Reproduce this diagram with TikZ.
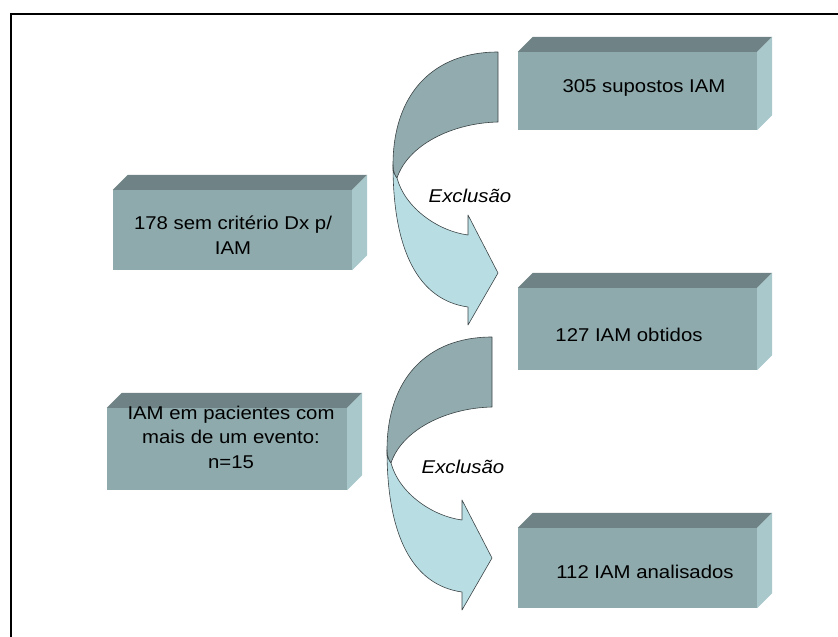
\documentclass[tikz,border=0pt]{standalone}
\usepackage{fontspec}
\setmainfont[FakeStretch=1.1]{Liberation Sans}
\definecolor{frontc}{HTML}{8FAAAD}
\definecolor{topc}{HTML}{6F8386}
\definecolor{sidec}{HTML}{A8C8CB}
\definecolor{arrdark}{HTML}{91ABAE}
\definecolor{arrlight}{HTML}{B8DEE4}
\definecolor{arredge}{HTML}{3C4446}
\newcommand\slabfaces[1]{%
  \fill[topc] (#1.north west) -- ++(15,-15) -- ([shift={(15,-15)}]#1.north east) -- (#1.north east) -- cycle;
  \fill[sidec] (#1.north east) -- ++(15,-15) -- ([shift={(15,-15)}]#1.south east) -- (#1.south east) -- cycle;}
\tikzset{
  slab/.style={fill=frontc, inner sep=0pt, minimum width=239pt},
  slabtext/.style={font=\fontsize{18.5}{24.5}\selectfont, align=center, inner sep=0pt},
  exctext/.style={font=\fontsize{18.5}{22}\selectfont\itshape, inner sep=0pt},
  arrpart/.style={draw=arredge, line width=0.6pt, line join=round}
}
\begin{document}
\begin{tikzpicture}[x=1pt,y=-1pt]
\useasboundingbox (0,0) rectangle (838,637);
% frame
\draw[line width=2pt] (11,637) -- (11,14) -- (838,14);
% curved arrows
\foreach \dx/\dy in {0/0,-6/285}{
\begin{scope}[shift={(\dx,\dy)}]
  \filldraw[arrpart, fill=arrdark] (498,52) -- (498,122) .. controls (452,123) and (408,145) .. (397,178) .. controls (395,176) and (393,172) .. (393,165) .. controls (393,95) and (432,52) .. (498,52) -- cycle;
  \filldraw[arrpart, fill=arrlight] (393,165) .. controls (393,250) and (418,300) .. (468,307) -- (468,325) -- (498,273) -- (468,215) -- (468,235) .. controls (438,231) and (405,208) .. (397,178) .. controls (395,176) and (393,172) .. (393,165) -- cycle;
\end{scope}}
% slabs
\node[slab, minimum height=78pt] (b1) at (637.5,91) {};
\node[slab, minimum height=82pt] (b2) at (637.5,329) {};
\node[slab, minimum height=80pt] (b3) at (637.5,568) {};
\node[slab, minimum height=80pt] (l1) at (232.5,230) {};
\node[slab, minimum height=82pt, minimum width=240pt] (l2) at (227,449) {};
\slabfaces{b1}\slabfaces{b2}\slabfaces{b3}\slabfaces{l1}\slabfaces{l2}
% texts
\node[slabtext] (t1) at (644,88) {305 supostos IAM};
\node[slabtext] (t2) at (629,335) {127 IAM obtidos};
\node[slabtext] (t3) at (645,572) {112 IAM analisados};
\node[slabtext] (tl1) at (233,235) {178 sem critério Dx p/\\IAM};
\node[slabtext] (tl2) at (231,437) {IAM em pacientes com\\mais de um evento:\\n=15};
\node[exctext] (e1) at (470,196) {Exclusão};
\node[exctext] (e2) at (463,467) {Exclusão};
\end{tikzpicture}
\end{document}
